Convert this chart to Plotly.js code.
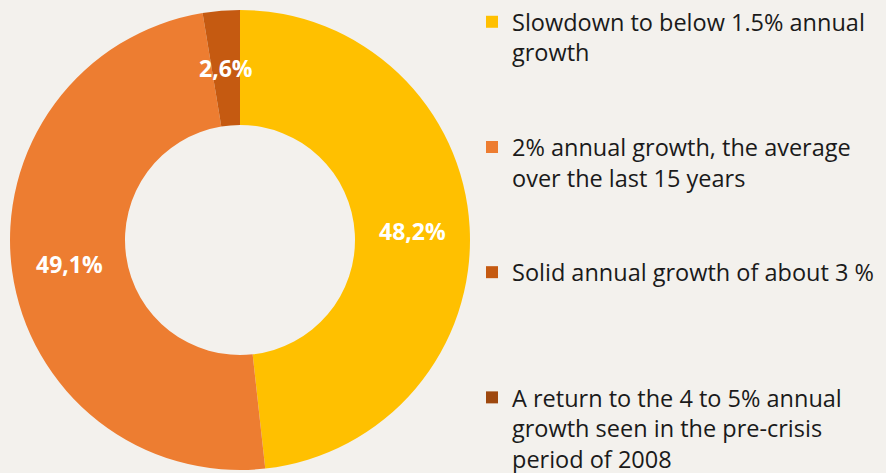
<!DOCTYPE html>
<html><head><meta charset="utf-8">
<script src="https://cdn.plot.ly/plotly-3.0.1.min.js"></script>
<style>html,body{margin:0;padding:0;background:#f3f1ed;}</style>
</head><body>
<div id="chart" style="width:886px;height:473px;"></div>
<script>
const categories = [
  "Slowdown to below 1.5% annual<br>growth<br> <br> ",
  "2% annual growth, the average<br>over the last 15 years<br> <br> ",
  "Solid annual growth of about 3 %<br> <br> <br> ",
  "A return to the 4 to 5% annual<br>growth seen in the pre-crisis<br>period of 2008"
];
const values = [48.2, 49.1, 2.6, 0];
const valueLabels = ["48,2%", "49,1%", "2,6%", ""];
const colors = ["#ffc000", "#ed7d31", "#c55a11", "#9e480e"];

const W = 886, H = 473;
const domX = [10/W, 470/W], domY = [3/H, 463/H];
const hole = 0.5;

const trace = {
  type: "pie",
  labels: categories,
  values: values,
  textinfo: "none",
  hole: hole,
  sort: false,
  direction: "clockwise",
  rotation: 0,
  marker: {colors: colors, line: {width: 0}},
  domain: {x: domX, y: domY},
  hoverinfo: "none"
};

// value labels placed at each slice's mid-angle, halfway through the ring
const total = values.reduce((a, b) => a + b, 0);
const cxp = (domX[0] + domX[1]) / 2, cyp = (domY[0] + domY[1]) / 2;
const rPx = Math.min((domX[1] - domX[0]) * W, (domY[1] - domY[0]) * H) / 2;
const rMid = rPx * (1 + hole) / 2;
let cum = 0;
const annotations = [];
values.forEach((v, i) => {
  const mid = (cum + v / 2) / total * 2 * Math.PI;
  cum += v;
  if (!valueLabels[i]) return;
  annotations.push({
    xref: "paper", yref: "paper",
    x: cxp + rMid * Math.sin(mid) / W,
    y: cyp + rMid * Math.cos(mid) / H,
    text: valueLabels[i], showarrow: false,
    xanchor: "center", yanchor: "middle",
    font: {family: "Open Sans", size: 23, color: "#ffffff", weight: "bold"}
  });
});

const layout = {
  width: W, height: H,
  margin: {l: 0, r: 0, t: 0, b: 0},
  paper_bgcolor: "#f3f1ed",
  plot_bgcolor: "#f3f1ed",
  showlegend: true,
  legend: {
    x: 472/W, y: 1, xanchor: "left", yanchor: "top",
    font: {family: "Open Sans", size: 23.5, color: "#1a1a1a"},
    valign: "top",
    bgcolor: "rgba(0,0,0,0)",
    itemclick: false
  },
  annotations: annotations
};

Plotly.newPlot("chart", [trace], layout, {displayModeBar: false, staticPlot: true});
</script>
</body></html>
